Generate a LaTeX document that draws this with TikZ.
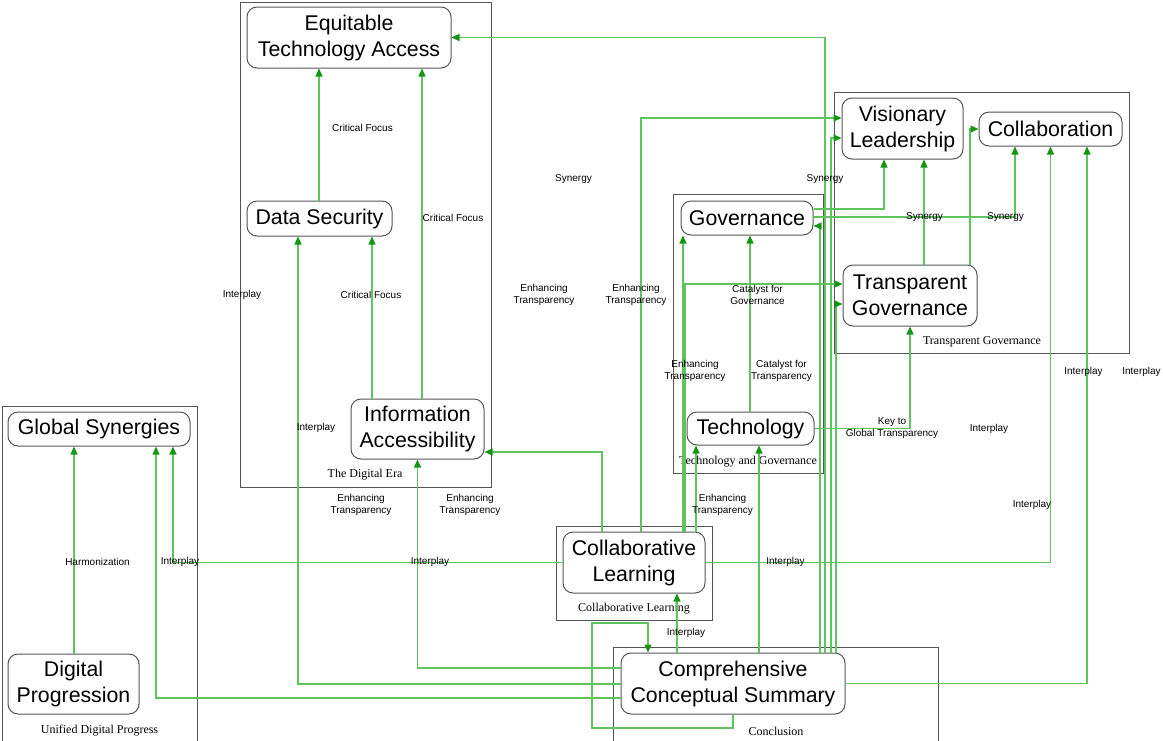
\documentclass[tikz,border=0pt]{standalone}
\usepackage{fontspec}
\setmainfont{Liberation Serif}
\newfontfamily\labfont{Liberation Sans}
\usetikzlibrary{arrows.meta}
\definecolor{edgegreen}{RGB}{95,195,95}
\definecolor{tipgreen}{RGB}{20,150,20}
\definecolor{framegray}{RGB}{85,85,85}
\begin{document}
\begin{tikzpicture}[x=1pt,y=-1pt,
  concept/.style={draw=framegray, line width=1pt, rounded corners=10pt, align=center,
    inner sep=0pt, fill=white, font=\labfont\fontsize{21.3}{26}\selectfont},
  cluster/.style={draw=framegray, line width=0.9pt},
  clusterlabel/.style={font=\fontsize{12}{14}\selectfont, inner sep=0pt},
  link/.style={draw=edgegreen, line width=1.25pt, -{Triangle[length=8pt,width=7pt,color=tipgreen]}},
  linklabel/.style={font=\labfont\fontsize{10}{12}\selectfont, align=center, inner sep=0pt}]

\useasboundingbox (0,0) rectangle (1163,740);
\clip (0,0) rectangle (1163,740);

% group frames
\draw[cluster] (240,2) rectangle (491,487);
\draw[cluster] (673,194) rectangle (823,473);
\draw[cluster] (834,92) rectangle (1129,353);
\draw[cluster] (2,406) rectangle (197,750);
\draw[cluster] (556,526) rectangle (712,620);
\draw[cluster] (613,647) rectangle (938,750);

\node[clusterlabel] (lblera) at (365,475) {The Digital Era};
\node[clusterlabel] (lbltg) at (748,462) {Technology and Governance};
\node[clusterlabel] (lbltrans) at (982,342) {Transparent Governance};
\node[clusterlabel] (lblunified) at (99.5,731) {Unified Digital Progress};
\node[clusterlabel] (lblcl) at (634,609) {Collaborative Learning};
\node[clusterlabel] (lblconc) at (776,731) {Conclusion};

% concepts
\node[concept, minimum width=204pt, minimum height=61pt] (eta) at (349,37.5) {Equitable\\Technology Access};
\node[concept, minimum width=145pt, minimum height=35pt] (ds) at (319.5,218.5) {Data Security};
\node[concept, minimum width=133pt, minimum height=60pt] (ia) at (417.5,429) {Information\\Accessibility};
\node[concept, minimum width=132pt, minimum height=34pt] (gov) at (747,218) {Governance};
\node[concept, minimum width=127pt, minimum height=33pt] (tech) at (750.5,428.5) {Technology};
\node[concept, minimum width=121pt, minimum height=61pt] (vl) at (902.5,128.5) {Visionary\\Leadership};
\node[concept, minimum width=143pt, minimum height=34pt] (collab) at (1050.5,129) {Collaboration};
\node[concept, minimum width=134pt, minimum height=61pt] (tg) at (910,295.5) {Transparent\\Governance};
\node[concept, minimum width=182pt, minimum height=34pt] (gs) at (99,429) {Global Synergies};
\node[concept, minimum width=131pt, minimum height=60pt] (dp) at (73.5,684) {Digital\\Progression};
\node[concept, minimum width=142pt, minimum height=61pt] (cl) at (634,562.5) {Collaborative\\Learning};
\node[concept, minimum width=224pt, minimum height=61pt] (ccs) at (733,683.5) {Comprehensive\\Conceptual Summary};

% bend points of the summary's loop
\coordinate (loopa) at (733,728);
\coordinate (loopb) at (592,728);
\coordinate (loopc) at (592,623);
\coordinate (loopd) at (648,623);

% connectors
\draw[link] (ds.north -| 319,0) -- (eta.south -| 319,0);
\draw[link] (ia.north -| 422,0) -- (eta.south -| 422,0);
\draw[link] (ia.north -| 372,0) -- (ds.south -| 372,0);
\draw[link] (ccs.north -| 825,0) |- (eta.east);
\draw[link] (ccs.north -| 820,0) |- (gov.east |- 0,226);
\draw[link] (ccs.north -| 831,0) |- (vl.west |- 0,138);
\draw[link] (ccs.north -| 836,0) |- (tg.west |- 0,304);
\draw[link] (cl.north -| 641,0) |- (vl.west |- 0,118);
\draw[link] (cl.north -| 602,0) |- (ia.east |- 0,452);
\draw[link] (cl.north -| 683,0) -- (gov.south -| 683,0);
\draw[link] (cl.north -| 685,0) |- (tg.west |- 0,284);
\draw[link] (cl.north -| 696,0) -- (tech.south -| 696,0);
\draw[link] (tech.north -| 750,0) -- (gov.south -| 750,0);
\draw[link] (tech.east) -| (tg.south);
\draw[link] (ccs.north -| 759,0) -- (tech.south -| 759,0);
\draw[link] (ccs.north -| 677,0) -- (cl.south -| 677,0);
\draw[link] (ccs.south -| loopa) -- (loopa) -- (loopb) -- (loopc) -- (loopd) -- (ccs.north -| loopd);
\draw[link] (ccs.west |- 0,668) -| (ia.south);
\draw[link] (ccs.west |- 0,684) -| (ds.south -| 298,0);
\draw[link] (ccs.west |- 0,698) -| (gs.south -| 156,0);
\draw[link] (cl.west) -| (gs.south -| 173,0);
\draw[link] (cl.east) -| (collab.south);
\draw[link] (ccs.east) -| (collab.south -| 1087,0);
\draw[link] (dp.north -| 74,0) -- (gs.south -| 74,0);
\draw[link] (gov.east |- 0,209) -| (vl.south -| 884,0);
\draw[link] (gov.east |- 0,217) -| (collab.south -| 1015,0);
\draw[link] (tg.north -| 924,0) -- (vl.south -| 924,0);
\draw[link] (tg.north -| 970,0) |- (collab.west);

% connector labels
\node[linklabel] (l1) at (362.5,128) {Critical Focus};
\node[linklabel] (l2) at (453,217.5) {Critical Focus};
\node[linklabel] (l3) at (371,295) {Critical Focus};
\node[linklabel] (l4) at (573.5,179) {Synergy};
\node[linklabel] (l5) at (825,179) {Synergy};
\node[linklabel] (l6) at (924.5,217) {Synergy};
\node[linklabel] (l7) at (1005.5,217) {Synergy};
\node[linklabel] (l8) at (544,295) {Enhancing\\Transparency};
\node[linklabel] (l9) at (636,295) {Enhancing\\Transparency};
\node[linklabel] (l10) at (757.5,295) {Catalyst for\\Governance};
\node[linklabel] (l11) at (695,371) {Enhancing\\Transparency};
\node[linklabel] (l12) at (781.5,371) {Catalyst for\\Transparency};
\node[linklabel] (l13) at (892,428) {Key to\\Global Transparency};
\node[linklabel] (l14) at (242,295) {Interplay};
\node[linklabel] (l15) at (316,428) {Interplay};
\node[linklabel] (l16) at (1083.5,371.5) {Interplay};
\node[linklabel] (l17) at (1141.5,371.5) {Interplay};
\node[linklabel] (l18) at (989,428.5) {Interplay};
\node[linklabel] (l19) at (1032,505) {Interplay};
\node[linklabel] (l20) at (361,504.5) {Enhancing\\Transparency};
\node[linklabel] (l21) at (470,504.5) {Enhancing\\Transparency};
\node[linklabel] (l22) at (722.5,504.5) {Enhancing\\Transparency};
\node[linklabel] (l23) at (97.5,562) {Harmonization};
\node[linklabel] (l24) at (180,562) {Interplay};
\node[linklabel] (l25) at (430,562) {Interplay};
\node[linklabel] (l26) at (785.5,562) {Interplay};
\node[linklabel] (l27) at (686,632.5) {Interplay};
\end{tikzpicture}
\end{document}
